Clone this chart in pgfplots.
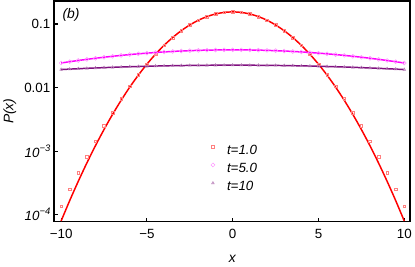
\documentclass[border=0pt]{standalone}
\usepackage{fontspec}
\setmainfont{Liberation Sans}
\usepackage{pgfplots}
\usepackage{pgfplotstable}
\pgfplotsset{compat=1.18}
\definecolor{rline}{HTML}{FF0000}
\definecolor{mline}{HTML}{FF00FF}
\definecolor{pline}{HTML}{7F107F}
\definecolor{rmark}{HTML}{FF8080}
\definecolor{mmark}{HTML}{FF90FF}
\definecolor{pmark}{HTML}{B478B4}
\pgfplotstableread{
x rl rm ml pl
-10 0.0000795 0.000136 0.02434 0.01920
-9.5 0.0001663 0.00025 0.02550 0.01950
-9 0.000335 0.00046 0.02665 0.01979
-8.5 0.000650 0.00081 0.02778 0.02006
-8 0.001215 0.00144 0.02890 0.02033
-7.5 0.002186 0.00253 0.02999 0.02058
-7 0.003786 0.00400 0.03104 0.02082
-6.5 0.006313 0.00670 0.03205 0.02104
-6 0.01014 0.01045 0.03302 0.02125
-5.5 0.01567 0.01585 0.03394 0.02145
-5 0.02333 0.02340 0.03480 0.02162
-4.5 0.03342 0.03342 0.03560 0.02179
-4 0.04612 0.04612 0.03632 0.02194
-3.5 0.06128 0.06128 0.03698 0.02207
-3 0.07838 0.07838 0.03756 0.02218
-2.5 0.09654 0.09654 0.03805 0.02228
-2 0.11448 0.11448 0.03846 0.02236
-1.5 0.13071 0.13071 0.03878 0.02242
-1 0.14369 0.14369 0.03901 0.02246
-0.5 0.15209 0.15209 0.03915 0.02249
0 0.15500 0.15500 0.03920 0.02250
0.5 0.15209 0.15209 0.03915 0.02249
1 0.14369 0.14369 0.03901 0.02246
1.5 0.13071 0.13071 0.03878 0.02242
2 0.11448 0.11448 0.03846 0.02236
2.5 0.09654 0.09654 0.03805 0.02228
3 0.07838 0.07838 0.03756 0.02218
3.5 0.06128 0.06128 0.03698 0.02207
4 0.04612 0.04612 0.03632 0.02194
4.5 0.03342 0.03342 0.03560 0.02179
5 0.02333 0.02340 0.03480 0.02162
5.5 0.01567 0.01585 0.03394 0.02145
6 0.01014 0.01045 0.03302 0.02125
6.5 0.006313 0.00670 0.03205 0.02104
7 0.003786 0.00400 0.03104 0.02082
7.5 0.002186 0.00253 0.02999 0.02058
8 0.001215 0.00144 0.02890 0.02033
8.5 0.000650 0.00081 0.02778 0.02006
9 0.000335 0.00046 0.02665 0.01979
9.5 0.0001663 0.00025 0.02550 0.01950
10 0.0000795 0.000136 0.02434 0.01920
}\data
\begin{document}
\begin{tikzpicture}
\begin{axis}[
  at={(0,0)}, anchor=south west,
  scale only axis, width=360pt, height=223pt,
  ymode=log,
  xmin=-10.4, xmax=10.35, ymin=7.8e-5, ymax=0.23,
  axis line style={line width=1.6pt},
  tick style={black, line width=1.1pt},
  major tick length=4pt, tick align=inside,
  xtick pos=bottom, ytick pos=left,
  yminorticks=false, xminorticks=false,
  xtick={-10,-5,0,5,10},
  xticklabels={−10,−5,0,5,10},
  ytick={1e-4,1e-3,0.01,0.1},
  yticklabels={\textit{10}\raisebox{0.85ex}{\fontsize{9.5}{10}\selectfont\textit{−4}},\textit{10}\raisebox{0.85ex}{\fontsize{9.5}{10}\selectfont\textit{−3}},0.01,0.1},
  ticklabel style={font=\fontsize{13.5}{15}\selectfont},
  xticklabel style={yshift=-4.5pt},
  yticklabel style={xshift=-0.5pt},
  xlabel={x}, ylabel={P(x)},
  every axis x label/.style={at={(axis description cs:0.5,0)}, yshift=-38pt, anchor=center, font=\fontsize{14}{15}\selectfont\itshape},
  every axis y label/.style={at={(axis description cs:0,0.5)}, xshift=-45pt, rotate=90, anchor=center, font=\fontsize{14}{15}\selectfont\itshape},
  legend style={draw=none, fill=none, inner sep=0pt, column sep=0pt, row sep=7.5pt,
    nodes={inner sep=0pt},
    at={(axis description cs:0.4333,0.241)}, anchor=west,
    font=\fontsize{13.5}{15}\selectfont\itshape},
  legend cell align=left,
  legend image code/.code={\path (-4pt,0pt) (14pt,0pt); \draw[#1, only marks] plot coordinates {(0pt,3.5pt)};},
]
\addplot[only marks, mark=square, mark size=1.3pt, color=rmark, line width=0.5pt] table[x=x,y=rm]{\data};
\addlegendentry{t=1.0}
\addplot[only marks, mark=o, mark size=2pt, color=mmark, line width=0.5pt] table[x=x,y=ml]{\data};
\addlegendentry{t=5.0}
\addplot[only marks, mark=triangle, mark size=1.6pt, color=pmark, line width=0.5pt] table[x=x,y=pl]{\data};
\addlegendentry{t=10}
\addplot[forget plot, no marks, smooth, color=rline, line width=1.5pt] table[x=x,y=rl]{\data};
\addplot[forget plot, no marks, smooth, color=mline, line width=1.5pt] table[x=x,y=ml]{\data};
\addplot[forget plot, no marks, smooth, color=pline, line width=1.5pt] table[x=x,y=pl]{\data};
\node[font=\fontsize{14}{15}\selectfont\itshape] at (axis description cs:0.047,0.937) {(b)};
\end{axis}
\path[use as bounding box] (-53pt,-43pt) rectangle (362pt,224pt);
\end{tikzpicture}
\end{document}
